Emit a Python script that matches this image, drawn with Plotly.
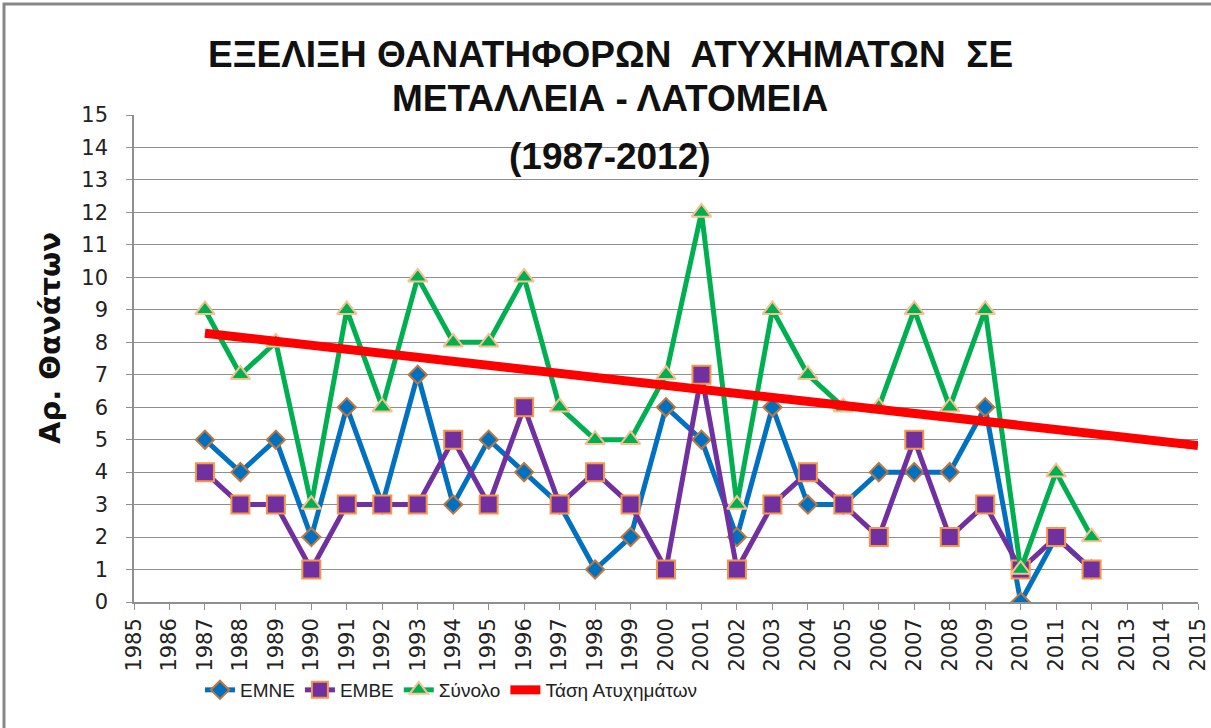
import plotly.graph_objects as go

years = list(range(1987, 2013))
emne = [5, 4, 5, 2, 6, 3, 7, 3, 5, 4, 3, 1, 2, 6, 5, 2, 6, 3, 3, 4, 4, 4, 6, 0, 2, 1]
embe = [4, 3, 3, 1, 3, 3, 3, 5, 3, 6, 3, 4, 3, 1, 7, 1, 3, 4, 3, 2, 5, 2, 3, 1, 2, 1]
synolo = [9, 7, 8, 3, 9, 6, 10, 8, 8, 10, 6, 5, 5, 7, 12, 3, 9, 7, 6, 6, 9, 6, 9, 1, 4, 2]
trend_years = [1987, 2015]
trend_vals = [8.28, 4.82]

title_lines = ["ΕΞΕΛΙΞΗ ΘΑΝΑΤΗΦΟΡΩΝ  ΑΤΥΧΗΜΑΤΩΝ  ΣΕ", "ΜΕΤΑΛΛΕΙΑ - ΛΑΤΟΜΕΙΑ", "(1987-2012)"]
y_title = "Αρ. Θανάτων"

W, H = 1211, 728
L, R, T, B = 134, 13, 115, 126
pw, ph = W - L - R, H - T - B

def px(x):
    return (x - L) / pw

def py(y):
    return (H - B - y) / ph

fig = go.Figure()
fig.add_trace(go.Scatter(x=years, y=emne, name="EMNE", mode="lines+markers",
                         line=dict(color="#0070C0", width=5),
                         marker=dict(symbol="diamond", size=14, color="#0070C0",
                                     line=dict(color="#C0773C", width=2))))
fig.add_trace(go.Scatter(x=years, y=embe, name="EMBE", mode="lines+markers",
                         line=dict(color="#7030A0", width=5),
                         marker=dict(symbol="square", size=18, color="#7030A0",
                                     line=dict(color="#F79646", width=2))))
fig.add_trace(go.Scatter(x=years, y=synolo, name="Σύνολο", mode="lines+markers",
                         line=dict(color="#00B050", width=5),
                         marker=dict(symbol="triangle-up", size=17, color="#00B050",
                                     line=dict(color="#FAC090", width=2))))
fig.add_trace(go.Scatter(x=trend_years, y=trend_vals, name="Τάση Ατυχημάτων", mode="lines",
                         line=dict(color="#FF0000", width=9)))

tick_font = dict(family="DejaVu Sans", size=21, color="#222222")

fig.update_layout(
    width=W, height=H,
    margin=dict(l=L, r=R, t=T, b=B, autoexpand=False),
    paper_bgcolor="white", plot_bgcolor="white",
    showlegend=True,
    legend=dict(orientation="h", x=px(200), y=py(690), xanchor="left", yanchor="middle",
                font=dict(family="Liberation Sans", size=19, color="#222222"),
                bgcolor="rgba(0,0,0,0)"),
    xaxis=dict(range=[1985, 2015], tickmode="linear", tick0=1985, dtick=1,
               tickangle=-90, tickfont=tick_font, showgrid=False,
               showline=True, linecolor="#8F8F8F", linewidth=1.5,
               ticks="outside", ticklen=6, tickcolor="#8F8F8F", zeroline=False),
    yaxis=dict(range=[0, 15], tickmode="linear", tick0=0, dtick=1,
               tickfont=tick_font, showgrid=True, gridcolor="#8F8F8F", gridwidth=1.3,
               showline=True, linecolor="#8F8F8F", linewidth=1.5,
               ticks="outside", ticklen=6, tickcolor="#8F8F8F", zeroline=False,
               ticklabelstandoff=14),
)

title_y = [55, 98, 157]
for txt, yy in zip(title_lines, title_y):
    fig.add_annotation(text=txt, x=px(610), y=py(yy), xref="paper", yref="paper",
                       xanchor="center", yanchor="middle", showarrow=False,
                       font=dict(family="Liberation Sans", size=37, color="#111111", weight="bold"))

fig.add_annotation(text=y_title, x=px(50), y=py(338), xref="paper", yref="paper",
                   xanchor="center", yanchor="middle", showarrow=False, textangle=-90,
                   font=dict(family="DejaVu Sans", size=29, color="#111111", weight="bold"))

fig.add_shape(type="rect", xref="paper", yref="paper",
              x0=px(4), x1=px(1216), y0=py(733), y1=py(4),
              line=dict(color="#878787", width=3), fillcolor="rgba(0,0,0,0)")

fig.write_html("out.html", config={"displayModeBar": False},
               post_script="document.body.style.margin='0';document.body.style.padding='0';document.body.style.overflow='hidden';")
